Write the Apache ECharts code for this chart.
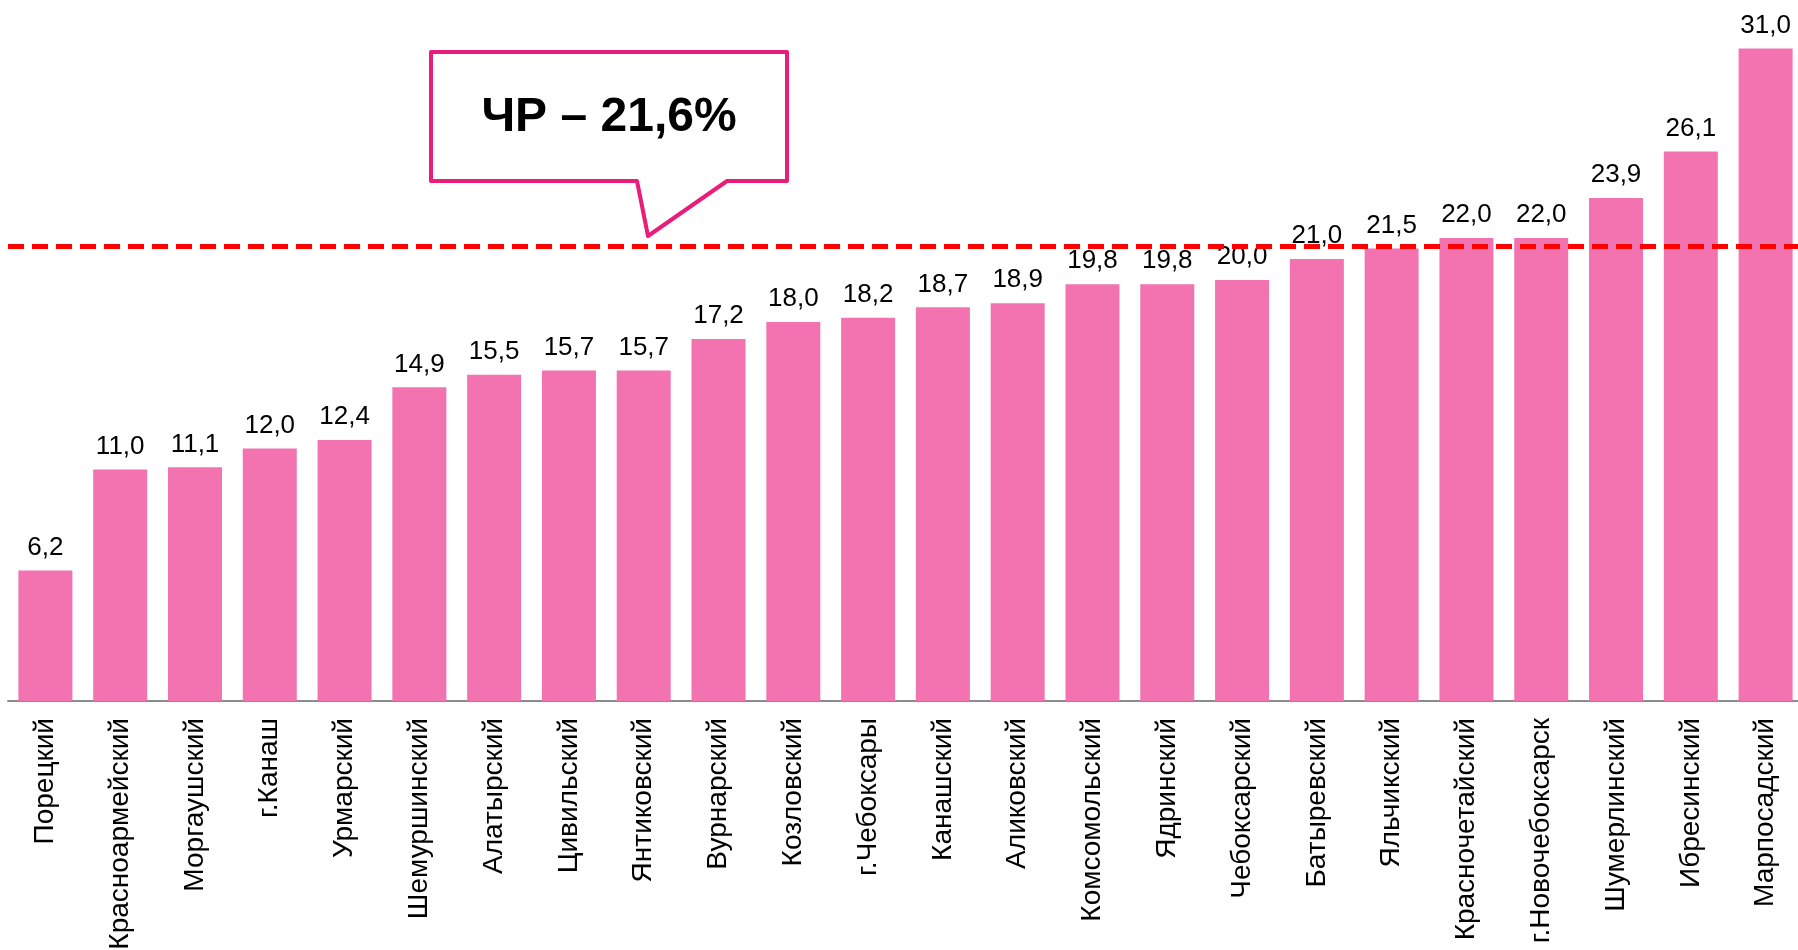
<!DOCTYPE html>
<html>
<head>
<meta charset="utf-8">
<style>
  html, body { margin: 0; padding: 0; background: #fff; }
  #chart { width: 1798px; height: 950px; }
</style>
<script src="https://cdn.jsdelivr.net/npm/echarts@6/dist/echarts.min.js"></script>
</head>
<body>
<div id="chart"></div>
<script>
// районы (по возрастанию)
var districts = [
  'Порецкий', 'Красноармейский', 'Моргаушский', 'г.Канаш', 'Урмарский',
  'Шемуршинский', 'Алатырский', 'Цивильский', 'Янтиковский', 'Вурнарский',
  'Козловский', 'г.Чебоксары', 'Канашский', 'Аликовский', 'Комсомольский',
  'Ядринский', 'Чебоксарский', 'Батыревский', 'Яльчикский', 'Красночетайский',
  'г.Новочебоксарск', 'Шумерлинский', 'Ибресинский', 'Марпосадский'
];
var values = [
  6.2, 11.0, 11.1, 12.0, 12.4,
  14.9, 15.5, 15.7, 15.7, 17.2,
  18.0, 18.2, 18.7, 18.9, 19.8,
  19.8, 20.0, 21.0, 21.5, 22.0,
  22.0, 23.9, 26.1, 31.0
];
var republicAvg = 21.6; // ЧР
var calloutText = 'ЧР – 21,6%';

function fmt(v) {
  return v.toFixed(1).replace('.', ',');
}

var myChart = echarts.init(document.getElementById('chart'));
myChart.setOption({
  animation: false,
  grid: { left: 8, top: 0, width: 1795, bottom: 249, outerBoundsMode: 'none', containLabel: false },
  xAxis: {
    type: 'category',
    data: districts,
    axisLine: { lineStyle: { color: '#8c8c8c', width: 2 } },
    axisTick: { length: 9, interval: 0, lineStyle: { color: '#8c8c8c', width: 2 } },
    axisLabel: {
      rotate: 90,
      margin: 17,
      interval: 0,
      fontSize: 28,
      fontFamily: 'Arial, "Liberation Sans", sans-serif',
      color: '#000'
    }
  },
  yAxis: {
    type: 'value',
    min: 0,
    max: 33.3,
    show: false,
    splitLine: { show: false }
  },
  series: [{
    type: 'bar',
    data: values,
    barWidth: 54,
    itemStyle: { color: '#F273B0' },
    label: {
      show: true,
      position: 'top',
      distance: 10,
      fontSize: 26,
      fontFamily: 'Arial, "Liberation Sans", sans-serif',
      color: '#000',
      formatter: function (p) { return fmt(p.value); }
    },
    markLine: {
      silent: true,
      symbol: 'none',
      label: { show: false },
      lineStyle: { color: '#FF0000', width: 5, type: [16, 8] },
      data: [{ yAxis: republicAvg }]
    }
  }],
  graphic: [
    {
      type: 'polygon',
      shape: {
        points: [[431, 52], [787, 52], [787, 181], [727, 181], [648, 236], [637, 181], [431, 181]]
      },
      style: { fill: '#fff', stroke: '#E91E7B', lineWidth: 4, lineJoin: 'round' },
      z: 10
    },
    {
      type: 'text',
      x: 609,
      y: 118,
      style: {
        text: calloutText,
        fontSize: 48,
        fontWeight: 'bold',
        fontFamily: 'Arial, "Liberation Sans", sans-serif',
        fill: '#000',
        align: 'center',
        verticalAlign: 'middle'
      },
      z: 11
    }
  ]
});
window.addEventListener('resize', function () {
  myChart.resize();
});
</script>
</body>
</html>
